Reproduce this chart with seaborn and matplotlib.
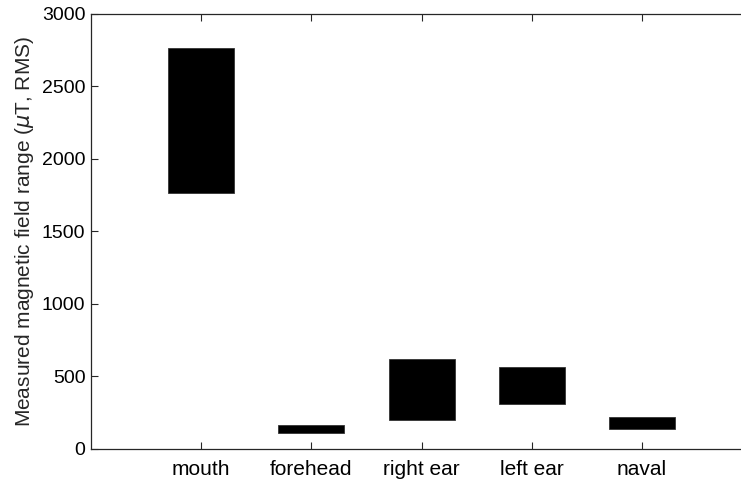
import matplotlib
matplotlib.use("Agg")
import matplotlib.pyplot as plt
import seaborn as sns
import pandas as pd

categories = ["mouth", "forehead", "right ear", "left ear", "naval"]
low_values = [1762, 106, 200, 306, 138]
high_values = [2767, 161, 619, 564, 217]
y_ticks = [0, 500, 1000, 1500, 2000, 2500, 3000]

df = pd.DataFrame({
    "site": categories,
    "low": low_values,
    "span": [h - l for h, l in zip(high_values, low_values)],
})

sns.set_theme(style="white")
plt.rcParams["font.family"] = ["Liberation Sans", "DejaVu Sans"]
plt.rcParams["mathtext.fontset"] = "dejavusans"

W, H = 741, 480
left_px, right_px, top_px, bottom_px = 91, 800, 14, 448.7
step_px = 110.2

fig = plt.figure(figsize=(W / 100, H / 100), dpi=100)
ax = fig.add_axes([left_px / W, 1 - bottom_px / H, (right_px - left_px) / W, (bottom_px - top_px) / H])

sns.barplot(data=df, x="site", y="span", order=categories, bottom=df["low"].values,
            color="black", width=0.6, edgecolor="#333333", linewidth=0.6,
            saturation=1, errorbar=None, ax=ax)

ax.set_xlim(-1, -1 + (right_px - left_px) / step_px)
ax.set_ylim(0, 3000)
ax.set_yticks(y_ticks)
ax.set_xlabel("")
ax.set_ylabel(r"Measured magnetic field range ($\mu$T, RMS)", fontsize=15, color="#262626",
              labelpad=4)
ax.tick_params(axis="both", direction="in", length=5, width=0.8, color="#262626",
               labelcolor="black", top=True, right=False, bottom=True, left=True)
ax.tick_params(axis="y", labelsize=14, pad=4)
ax.tick_params(axis="x", labelsize=15, pad=8)
for name, s in ax.spines.items():
    s.set_color("#262626")
    s.set_linewidth(0.9)
ax.spines["right"].set_visible(False)

fig.savefig("out.png", dpi=100, facecolor="white")
